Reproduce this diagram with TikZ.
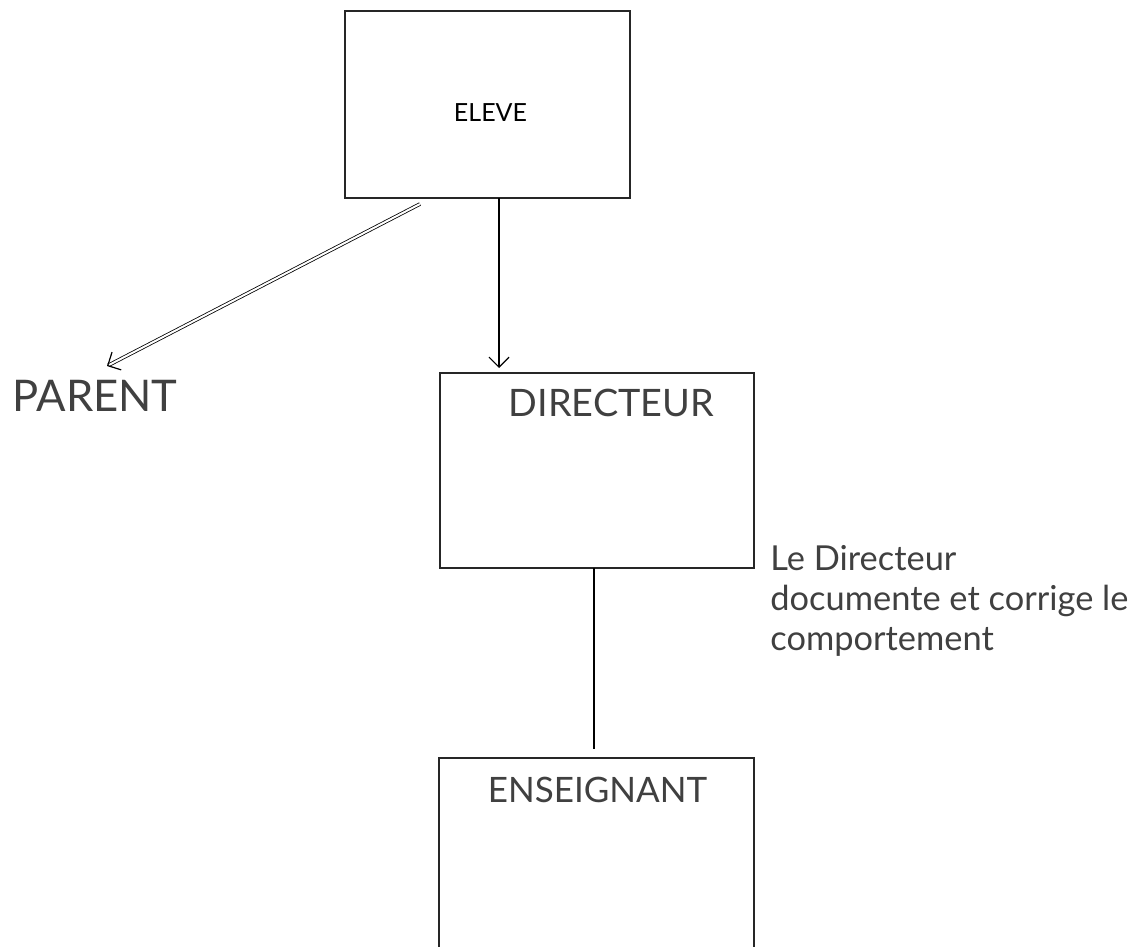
\documentclass[tikz,border=0pt]{standalone}
\usepackage{fontspec}
\setmainfont{Lato}
\usetikzlibrary{arrows.meta,calc}

\definecolor{txtgray}{HTML}{404040}
\definecolor{linegray}{HTML}{262626}

\begin{document}
\begin{tikzpicture}[
  x=0.5pt, y=-0.5pt,
  every node/.style={inner sep=0pt},
  box/.style={draw=linegray, line width=1pt, fill=white},
  obj/.style={text=txtgray, font=\fontsize{17.5}{21}\selectfont},
  note/.style={text=txtgray, align=left, font=\fontsize{17.2}{20}\selectfont},
  edge/.style={draw, line width=0.6pt},
  arrow/.style={draw, line width=0.6pt, -{Straight Barb[length=5pt, width=10pt]}},
  darrow/.style={draw, line width=0.4pt, double, double distance=1pt,
                 -{Straight Barb[length=5pt, width=10pt, line width=0.6pt]}}]

  \useasboundingbox (0,0) rectangle (1135,947);
  \clip (0,0) rectangle (1135,947);

  \node[box, minimum width=142.5pt, minimum height=93.5pt] (ELEVE) at (487.5,104.5) {};
  \node[box, minimum width=157pt, minimum height=97.5pt] (DIR) at (597,470.5) {};
  \node[box, minimum width=157.5pt, minimum height=110pt] (ENS) at (596.5,868) {};

  \node[font=\fontsize{12.5}{15}\selectfont] (elevelab) at (490.5,113) {ELEVE};
  \node[obj, font=\fontsize{18.9}{22}\selectfont] (dirlab) at (611.5,402.5) {DIRECTEUR};
  \node[obj] (enslab) at (597.5,789.5) {ENSEIGNANT};
  \node[obj, font=\fontsize{21.8}{26}\selectfont] (PARENT) at (95,396) {PARENT};
  \node[note, anchor=north west] (comment) at (770,545)
    {Le Directeur\\documente et corrige le\\comportement};

  \coordinate (elevedown) at (499,198);
  \coordinate (elevepar) at (420,204);
  \coordinate (partip) at (107,366);
  \coordinate (dirdown) at (594,568);

  \draw[arrow]  (elevedown) -- ($(elevedown |- DIR.north)+(0,-4)$);
  \draw[darrow] (elevepar) -- (partip);
  \draw[edge]   (dirdown) -- ($(dirdown |- ENS.north)+(0,-8)$);

\end{tikzpicture}
\end{document}
